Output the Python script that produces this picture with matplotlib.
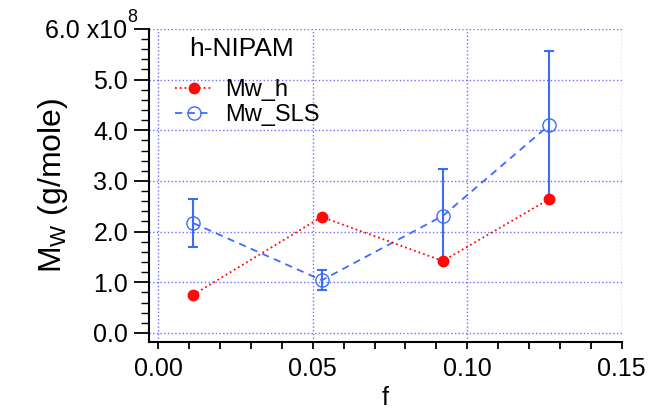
import matplotlib.pyplot as plt
import matplotlib.ticker as ticker

plt.rcParams['font.family'] = ['Liberation Sans', 'DejaVu Sans']
plt.rcParams['mathtext.fontset'] = 'custom'
plt.rcParams['mathtext.rm'] = 'Liberation Sans'
plt.rcParams['mathtext.it'] = 'Liberation Sans:italic'
plt.rcParams['mathtext.bf'] = 'Liberation Sans:bold'

# molecular weight in units of 1e8 g/mole
f_vals = [0.0112, 0.0529, 0.0921, 0.1265]
mw_h = [0.75, 2.29, 1.42, 2.64]
mw_sls = [2.17, 1.04, 2.31, 4.10]
mw_sls_err = [0.47, 0.20, 0.93, 1.46]

y_ticks = [0, 1, 2, 3, 4, 5, 6]
y_labels = ["0.0", "1.0", "2.0", "3.0", "4.0", "5.0", ""]
x_ticks = [0.0, 0.05, 0.10, 0.15]
x_labels = ["0.00", "0.05", "0.10", "0.15"]

red = '#ff0a0a'
blue = '#3a6cff'
grid_col = '#6e6eff'

fig = plt.figure(figsize=(6.51, 4.13), dpi=100)
ax = fig.add_axes([0.229, 0.173, 0.726, 0.757])

# grid
for y in y_ticks:
    ax.axhline(y, color=grid_col, ls=':', lw=1.0, zorder=0)
for x in x_ticks:
    ax.axvline(x, color=grid_col, ls=':', lw=1.0, zorder=0)

h_line, = ax.plot(f_vals, mw_h, ls=':', color=red, lw=1.3, marker='o',
                  ms=7.5, mfc=red, mec=red, label='Mw_h', zorder=3)
ax.errorbar(f_vals, mw_sls, yerr=mw_sls_err, fmt='none', ecolor=blue,
            elinewidth=1.5, capsize=3.5, capthick=1.5, zorder=2)
s_line, = ax.plot(f_vals, mw_sls, ls=(0, (4, 3)), color=blue, lw=1.3, marker='o',
                  ms=9.5, mfc='none', mec=blue, mew=1.0, label='Mw_SLS', zorder=2)

ax.set_xlim(-0.003, 0.15)
ax.set_ylim(-0.17, 6.0)

ax.yaxis.set_major_locator(ticker.FixedLocator(y_ticks))
ax.yaxis.set_major_formatter(ticker.FixedFormatter(y_labels))
ax.yaxis.set_minor_locator(ticker.MultipleLocator(0.2))
ax.xaxis.set_major_locator(ticker.FixedLocator(x_ticks))
ax.xaxis.set_major_formatter(ticker.FixedFormatter(x_labels))
ax.xaxis.set_minor_locator(ticker.MultipleLocator(0.01))

ax.tick_params(axis='y', which='major', length=11, width=1.3, labelsize=18, pad=4)
ax.tick_params(axis='y', which='minor', length=6, width=1.0)
ax.tick_params(axis='x', which='both', length=5, width=1.3, labelsize=18, pad=6)

# top tick label with the scale factor (plain text + superscript)
ax.annotate("6.0 x10", xy=(0, 6), xycoords=('axes fraction', 'data'),
            xytext=(-16, -1.5), textcoords='offset points', ha='right', va='center',
            fontsize=18)
ax.annotate("8", xy=(0, 6), xycoords=('axes fraction', 'data'),
            xytext=(-8.5, 8), textcoords='offset points', ha='right', va='center',
            fontsize=13)

for side in ['top', 'right']:
    ax.spines[side].set_visible(False)
for side in ['left', 'bottom']:
    ax.spines[side].set_linewidth(1.5)

ax.set_xlabel("f", fontsize=18, labelpad=4)
ax.set_ylabel("M$_\\mathregular{W}$ (g/mole)", fontsize=23, labelpad=17)

ax.text(0.195, 0.936, "h-NIPAM", transform=ax.transAxes, ha='center',
        va='center', fontsize=19)
leg = ax.legend(handles=[h_line, s_line], loc='upper left',
                bbox_to_anchor=(0.055, 0.84), frameon=False, fontsize=17,
                handlelength=1.6, handletextpad=0.5, labelspacing=0.15,
                borderpad=0, borderaxespad=0)

fig.savefig("out.png", dpi=100)
